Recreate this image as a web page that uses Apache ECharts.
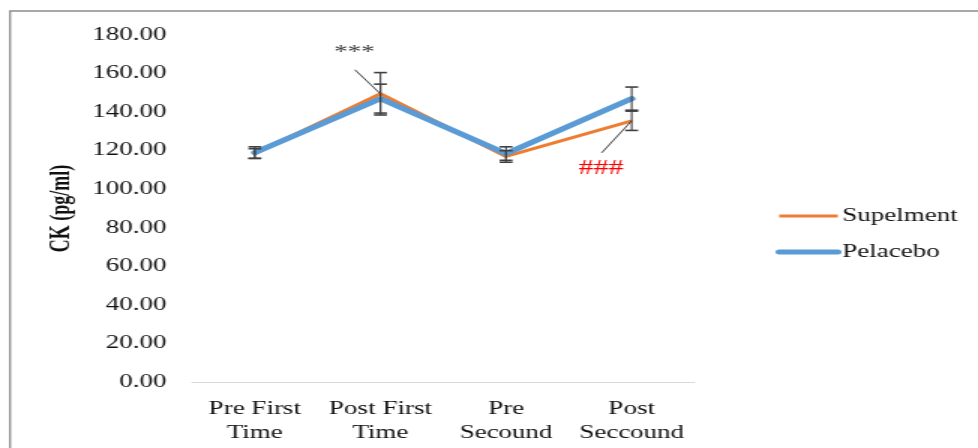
<!DOCTYPE html>
<html>
<head>
<meta charset="utf-8">
<script src="https://cdn.jsdelivr.net/npm/echarts@6/dist/echarts.min.js"></script>
<style>
html,body{margin:0;padding:0;background:#fff;overflow:hidden;}
/* the source picture is stretched sideways, so the chart is drawn narrower and widened */
#chart{width:652px;height:448px;transform:scaleX(1.5);transform-origin:0 0;}
</style>
</head>
<body>
<div id="chart"></div>
<script>
var categories = ['Pre First\nTime', 'Post First\nTime', 'Pre\nSecound', 'Post\nSeccound'];
var supelment = [118.5, 149.5, 117, 135.5];
var supelmentErr = [2.5, 11, 3, 5];
var pelacebo = [119, 147, 118.5, 147];
var pelaceboErr = [3, 7.5, 3.5, 6];
var yTicks = [0, 20, 40, 60, 80, 100, 120, 140, 160, 180];

var serif = '"Liberation Serif", "DejaVu Serif", serif';

function errBars(vals, errs) {
    var out = [];
    for (var i = 0; i < vals.length; i++) out.push([i, vals[i] - errs[i], vals[i] + errs[i]]);
    return out;
}

function renderErr(params, api) {
    var lo = api.coord([api.value(0), api.value(1)]);
    var hi = api.coord([api.value(0), api.value(2)]);
    var w = 4.3;
    var st = {stroke: '#404040', lineWidth: 1.6};
    return {
        type: 'group',
        children: [
            {type: 'line', shape: {x1: hi[0], y1: hi[1], x2: lo[0], y2: lo[1]}, style: {stroke: '#404040', lineWidth: 1.1}},
            {type: 'line', shape: {x1: hi[0] - w, y1: hi[1], x2: hi[0] + w, y2: hi[1]}, style: st},
            {type: 'line', shape: {x1: lo[0] - w, y1: lo[1], x2: lo[0] + w, y2: lo[1]}, style: st}
        ]
    };
}

// annotations: [category index, value, text, colour, font size, line dx, line dy, text dx, text dy]
var notes = [
    [1, supelment[1], '***', '#404040', 18, -17, -24, -17.5, -41],
    [3, supelment[3], '###', '#ff0000', 20, -20, 32, -20.5, 48]
];

function renderNote(params, api) {
    var n = notes[params.dataIndex];
    var p = api.coord([n[0], n[1]]);
    return {
        type: 'group',
        children: [
            {type: 'line', shape: {x1: p[0], y1: p[1], x2: p[0] + n[5], y2: p[1] + n[6]},
             style: {stroke: '#404040', lineWidth: 1}},
            {type: 'text', x: p[0] + n[7], y: p[1] + n[8],
             style: {text: n[2], fill: n[3], font: n[4] + 'px ' + serif, align: 'center', verticalAlign: 'middle'}}
        ]
    };
}

var myChart = echarts.init(document.getElementById('chart'));
var option = {
    animation: false,
    backgroundColor: '#fff',
    graphic: [
        {type: 'polyline', shape: {points: [[6.7, 460], [6.7, 11], [660, 11]]},
         style: {stroke: '#8c8c8c', lineWidth: 1.3, fill: null}}
    ],
    grid: {left: 128, right: 189, top: 35, bottom: 66},
    legend: {
        orient: 'vertical',
        left: 512,
        top: 202,
        itemWidth: 39,
        itemHeight: 14,
        itemGap: 18,
        itemStyle: {opacity: 0},
        textStyle: {fontFamily: serif, fontSize: 18, color: '#111', padding: [0, 0, 0, -2]},
        data: [
            {name: 'Supelment', lineStyle: {width: 3}},
            {name: 'Pelacebo', lineStyle: {width: 5}}
        ]
    },
    xAxis: {
        type: 'category',
        data: categories,
        axisLine: {lineStyle: {color: '#d9d9d9', width: 1}},
        axisTick: {show: false},
        axisLabel: {fontFamily: serif, fontSize: 18, color: '#111', lineHeight: 24, margin: 15, interval: 0}
    },
    yAxis: {
        type: 'value',
        min: yTicks[0],
        max: yTicks[yTicks.length - 1],
        interval: 20,
        name: 'CK (pg/ml)',
        nameLocation: 'middle',
        nameRotate: 90,
        nameGap: 76,
        nameTextStyle: {fontFamily: serif, fontSize: 18, fontWeight: 'bold', color: '#111'},
        axisLine: {show: false},
        axisTick: {show: false},
        splitLine: {show: false},
        axisLabel: {fontFamily: serif, fontSize: 18, color: '#111', margin: 17,
            formatter: function (v) { return v.toFixed(2); }}
    },
    series: [
        {
            name: 'Supelment', type: 'line', data: supelment, symbol: 'none',
            color: '#ED7D31', lineStyle: {width: 3, color: '#ED7D31'}, z: 3
        },
        {
            name: 'Pelacebo', type: 'line', data: pelacebo, symbol: 'none',
            color: '#5B9BD5', lineStyle: {width: 5, color: '#5B9BD5', cap: 'round'}, z: 4
        },
        {type: 'custom', renderItem: renderErr, data: errBars(supelment, supelmentErr), z: 5, silent: true},
        {type: 'custom', renderItem: renderErr, data: errBars(pelacebo, pelaceboErr), z: 5, silent: true},
        {type: 'custom', renderItem: renderNote, data: notes.map(function (n) { return [n[0], n[1]]; }), z: 6, silent: true}
    ]
};
myChart.setOption(option);
</script>
</body>
</html>
